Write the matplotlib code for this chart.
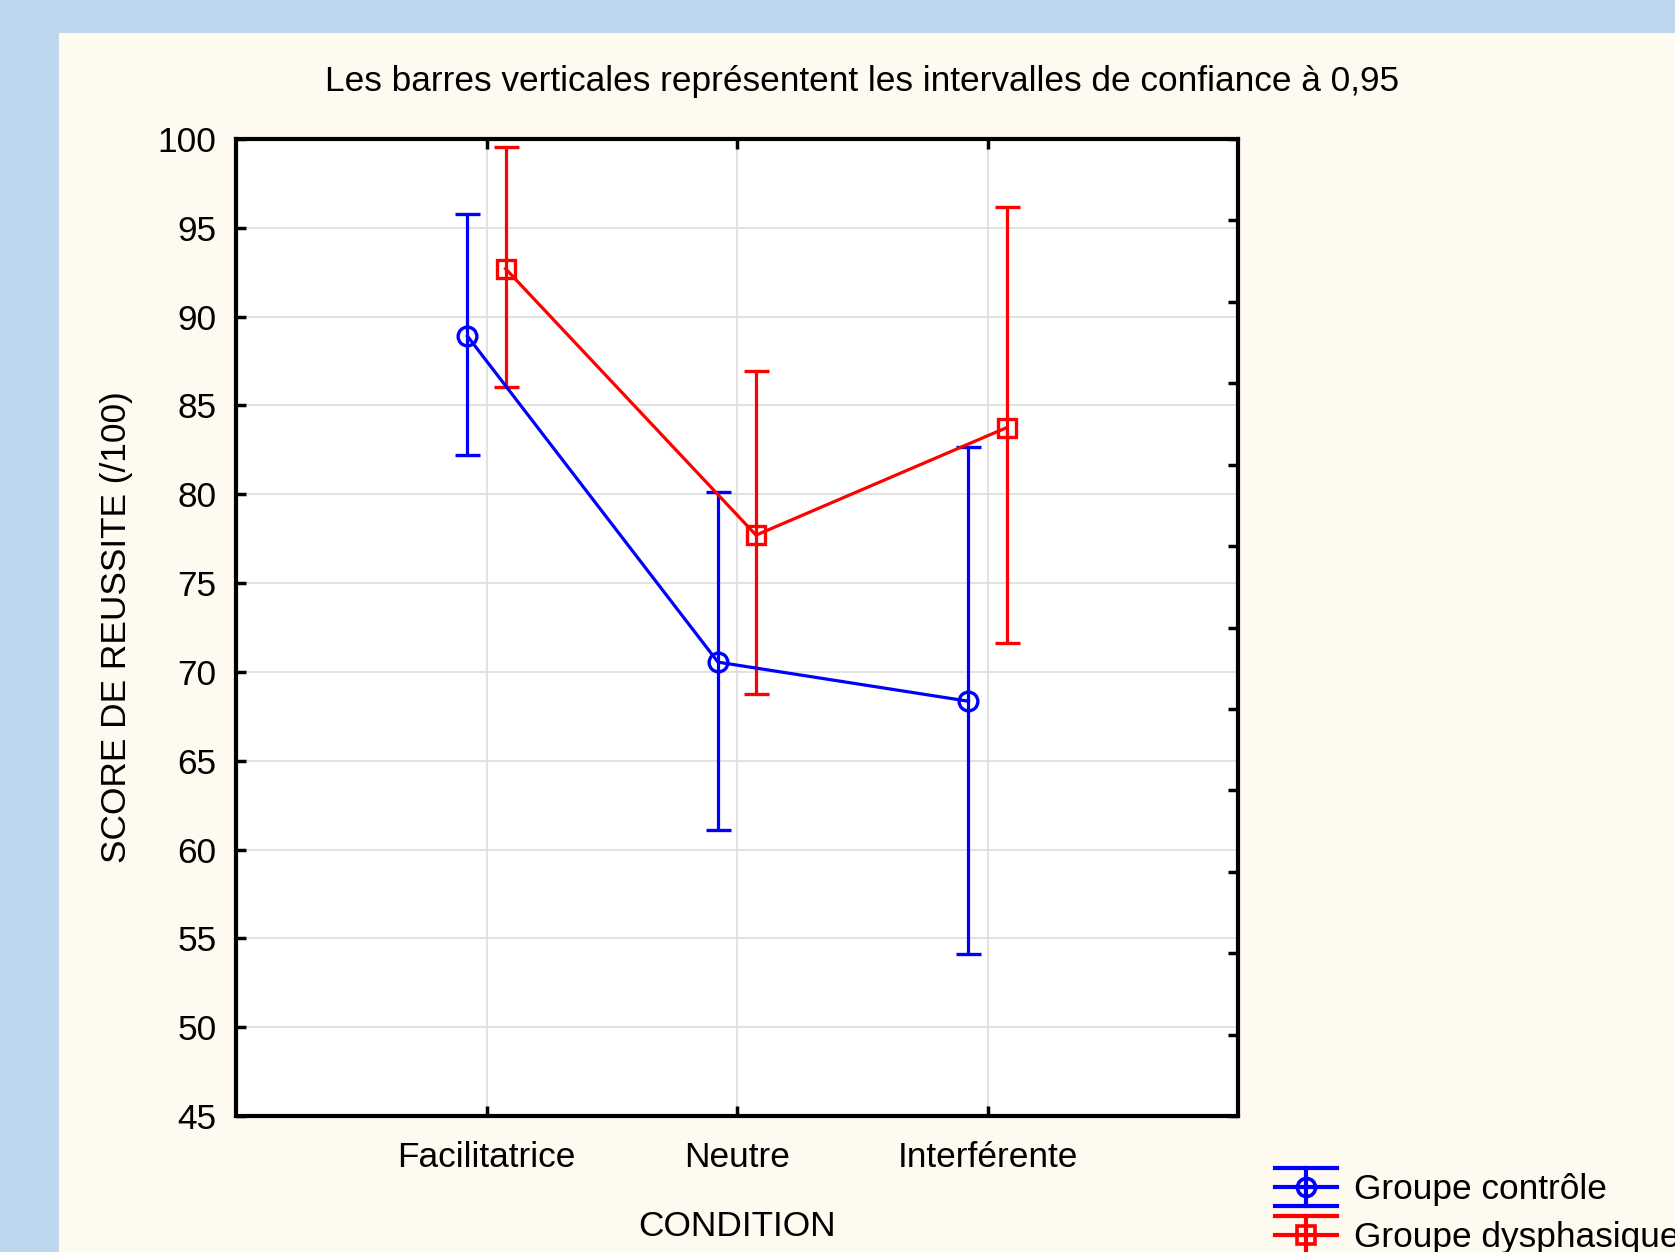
import matplotlib
matplotlib.use('Agg')
import matplotlib.pyplot as plt
from matplotlib.lines import Line2D
from matplotlib.legend_handler import HandlerBase
from matplotlib.patches import Rectangle
import numpy as np

categories = ['Facilitatrice', 'Neutre', 'Interférente']
groups = ['Groupe contrôle', 'Groupe dysphasique']
ctrl_mean = [88.9, 70.55, 68.35]
ctrl_low = [82.2, 61.1, 54.1]
ctrl_high = [95.8, 80.15, 82.65]
dys_mean = [92.7, 77.7, 83.75]
dys_low = [86.05, 68.75, 71.65]
dys_high = [99.55, 86.95, 96.15]
yticks = list(range(45, 101, 5))

plt.rcParams['font.family'] = ['Liberation Sans', 'DejaVu Sans']
FS = 25.4

W, H = 1675, 1252
fig = plt.figure(figsize=(W / 100, H / 100), dpi=100, facecolor='#BDD7EE')
fig.patches.append(Rectangle((59 / W, 0), 1 - 59 / W, 1 - 33 / H, transform=fig.transFigure,
                             facecolor='#FFFAF0', edgecolor='none', zorder=-10))

ax = fig.add_axes([236 / W, 1 - 1116 / H, (1238 - 236) / W, (1116 - 139) / H])
ax.set_facecolor('white')

x = np.arange(1, len(categories) + 1)
off = 0.076
series = [
    (ctrl_mean, ctrl_low, ctrl_high, '#0000FF', 'o', -off, groups[0]),
    (dys_mean, dys_low, dys_high, '#FF0000', 's', off, groups[1]),
]
handles = []
for mean, low, high, col, mk, dx, lab in series:
    mean = np.array(mean); low = np.array(low); high = np.array(high)
    yerr = np.vstack([mean - low, high - mean])
    cont = ax.errorbar(x + dx, mean, yerr=yerr, color=col, lw=2.3, marker=mk,
                       markersize=13.5, markerfacecolor='none', markeredgewidth=2.4,
                       capsize=9, capthick=2.3, elinewidth=2.3, zorder=3, label=lab)
    handles.append(cont.lines[0])

ax.set_xlim(0, 4)
ax.set_ylim(45, 100)
ax.set_xticks(x)
ax.set_xticklabels(categories, fontsize=FS)
ax.set_yticks(yticks)
ax.set_yticklabels([str(v) for v in yticks], fontsize=FS)
ax.grid(True, color='#DDDDDD', lw=1.2, zorder=0)
ax.set_axisbelow(True)
ax.tick_params(axis='both', direction='in', length=7, width=2.5, top=True, right=False,
               pad=14)
ax.tick_params(axis='x', pad=18)
for s in ax.spines.values():
    s.set_linewidth(3)
ax.set_xlabel('CONDITION', fontsize=FS, labelpad=26)
ax.set_ylabel('SCORE DE REUSSITE (/100)', fontsize=FS, labelpad=18)

ax2 = ax.twinx()
ax2.set_ylim(0, 12)
ax2.set_yticks(np.arange(0, 13))
ax2.set_yticklabels([])
ax2.tick_params(axis='y', direction='in', length=7, width=2.5)
for s in ax2.spines.values():
    s.set_visible(False)

fig.text(862 / W, 1 - 82 / H, 'Les barres verticales représentent les intervalles de confiance à 0,95',
         ha='center', va='center', fontsize=FS)


class HandlerCI(HandlerBase):
    def create_artists(self, legend, orig_handle, xdescent, ydescent, width, height,
                       fontsize, trans):
        col = orig_handle.get_color()
        mk = orig_handle.get_marker()
        cy = height / 2 - ydescent
        half = 13.7
        arts = []
        for yy in (cy - half, cy, cy + half):
            arts.append(Line2D([-xdescent, -xdescent + width], [yy, yy], color=col, lw=3.0))
        xc = -xdescent + width / 2
        arts.append(Line2D([xc, xc], [cy - half, cy + half], color=col, lw=3.0))
        arts.append(Line2D([xc], [cy], marker=mk, markersize=13, markerfacecolor='none',
                           markeredgecolor=col, markeredgewidth=2.6, linestyle='none'))
        for a in arts:
            a.set_transform(trans)
        return arts


leg = fig.legend(handles, groups, loc='upper left', bbox_to_anchor=(1275 / W, 1 - 1170 / H),
                 frameon=False, fontsize=FS, handlelength=1.75, handleheight=1.08,
                 handletextpad=0.5, labelspacing=0.37, borderaxespad=0, borderpad=0,
                 handler_map={Line2D: HandlerCI()})

fig.savefig('out.png', dpi=100, facecolor=fig.get_facecolor())
